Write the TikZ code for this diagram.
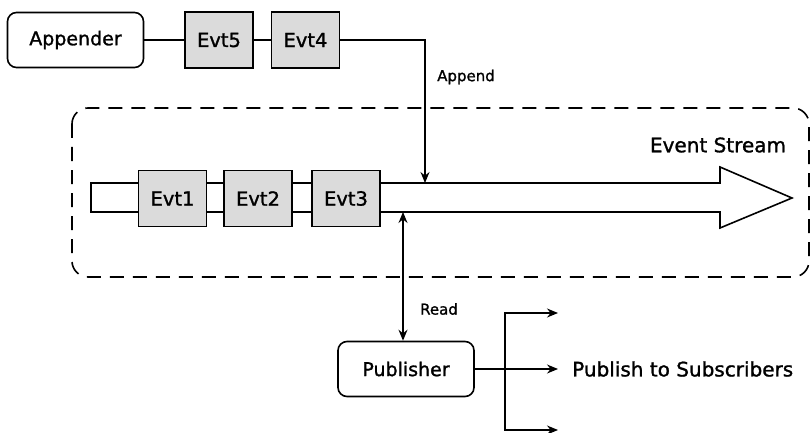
\documentclass[tikz,border=0pt]{standalone}
\usepackage{fontspec}
\setmainfont{DejaVu Sans}[FakeBold=1.3]
\usetikzlibrary{arrows.meta}
\begin{document}
\begin{tikzpicture}[x=1pt,y=-1pt,
  box/.style={draw, line width=1.6pt, rounded corners=9pt, minimum width=136pt, minimum height=55pt, inner sep=0pt, font=\fontsize{19}{21}\selectfont},
  evt/.style={draw, line width=1.6pt, fill=black!14, minimum width=68pt, minimum height=56pt, inner sep=0pt, font=\fontsize{19.5}{22}\selectfont},
  conn/.style={line width=1.3pt},
  arr/.style={conn, -{Stealth[length=11pt,width=9pt]}},
  lbl/.style={font=\fontsize{15}{16}\selectfont, inner sep=0pt},
  big/.style={font=\fontsize{20}{23}\selectfont, inner sep=0pt}]
\useasboundingbox (0,0) rectangle (811,433);
% container
\draw[line width=1.6pt, dash pattern=on 14pt off 9pt, rounded corners=16pt] (72,108) rectangle (809,277);
% stream arrow
\draw[line width=1.6pt, fill=white] (91,183) -- (720,183) -- (720,167) -- (792,198) -- (720,228) -- (720,212) -- (91,212) -- cycle;
% nodes
\node[box] (app) at (75.5,40) {Appender};
\node[evt] (evt5) at (219,40) {Evt5};
\node[evt] (evt4) at (305.5,40) {Evt4};
\node[evt] (evt1) at (172.5,198.5) {Evt1};
\node[evt] (evt2) at (258,198.5) {Evt2};
\node[evt] (evt3) at (346,198.5) {Evt3};
\node[box] (pub) at (406,369) {Publisher};
% labels
\node[lbl] (lappend) at (466,77) {Append};
\node[lbl] (lread) at (439,309) {Read};
\node[big] (lstream) at (718,145) {Event Stream};
\node[big, anchor=west] (lpub) at (572,369) {Publish to Subscribers};
% coordinates
\coordinate (appendtip) at (425,183);
\coordinate (readtop) at (403,212);
\coordinate (split) at (505,369);
\coordinate (s1) at (558,313);
\coordinate (s2) at (558,369);
\coordinate (s3) at (558,430);
% connectors
\draw[conn] (app) -- (evt5);
\draw[conn] (evt5) -- (evt4);
\draw[arr] (evt4.east) -| (appendtip);
\draw[conn, {Stealth[length=11pt,width=9pt]}-{Stealth[length=11pt,width=9pt]}] (readtop) -- (readtop |- pub.north);
\draw[conn] (pub.east) -- (split);
\draw[arr] (split) |- (s1);
\draw[arr] (split) |- (s3);
\draw[arr] (split) -- (s2);
\end{tikzpicture}
\end{document}
